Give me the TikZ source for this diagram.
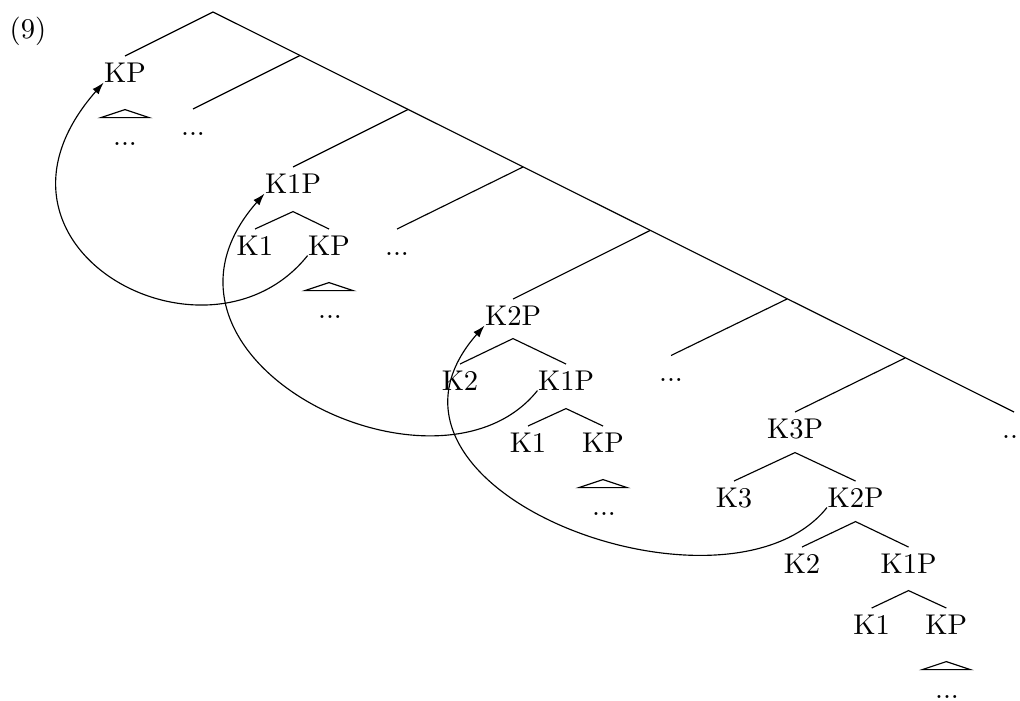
\documentclass[tikz,border=0pt]{standalone}
\usetikzlibrary{arrows.meta,calc}

\begin{document}
\begin{tikzpicture}[
  x=0.35pt, y=-0.35pt,
  lab/.style={inner sep=0pt, anchor=base, text height=8.9pt, text depth=0pt},
  mv/.style={-{Latex[length=4.2pt,width=2.8pt]}}
]
  \useasboundingbox (0,0) rectangle (1020,700);
  \node[inner sep=0pt] (exnum) at (28,31.5) {(9)};

  % labels
  \node[lab] (kp0) at (125,82) {KP};
  \node[lab] (kp0-dots) at (125,145.5) {...};
  \node[lab] (dots1) at (193,135) {...};
  \node[lab] (k1p) at (293,193) {K1P};
  \node[lab] (k1p-k1) at (255,255) {K1};
  \node[lab] (k1p-kp) at (329,255) {KP};
  \node[lab] (k1p-dots) at (330,318) {...};
  \node[lab] (dots2) at (397,255) {...};
  \node[lab] (k2p) at (513,325) {K2P};
  \node[lab] (k2p-k2) at (460,390) {K2};
  \node[lab] (k2p-k1p) at (566,390) {K1P};
  \node[lab] (k2p-k1) at (528,452) {K1};
  \node[lab] (k2p-kp) at (603,452) {KP};
  \node[lab] (k2p-dots) at (604,515) {...};
  \node[lab] (dots3) at (671,381.5) {...};
  \node[lab] (k3p) at (795,438) {K3P};
  \node[lab] (dots4) at (1014,438) {...};
  \node[lab] (k3p-k3) at (734,507) {K3};
  \node[lab] (k3p-k2p) at (855.5,507) {K2P};
  \node[lab] (k3p-k2) at (802,573) {K2};
  \node[lab] (k3p-k1p) at (908.5,573) {K1P};
  \node[lab] (k3p-k1) at (871.7,634) {K1};
  \node[lab] (k3p-kp) at (946.3,634) {KP};
  \node[lab] (k3p-dots) at (947,698) {...};

  % spine
  \coordinate (root) at (213,12);
  \coordinate (s1) at (300,55.5);
  \coordinate (s2) at (408,109.5);
  \coordinate (s3) at (523,167);
  \coordinate (s4) at (650,230.5);
  \coordinate (s5) at (787,299);
  \coordinate (s6) at (905,358);
  \draw (root) -- (dots4.north);
  \draw (root) -- (kp0.north);
  \draw (s1) -- (dots1.north);
  \draw (s2) -- (k1p.north);
  \draw (s3) -- (dots2.north);
  \draw (s4) -- (k2p.north);
  \draw (s5) -- (dots3.north);
  \draw (s6) -- (k3p.north);

  % subtrees
  \coordinate (k1p-top) at ($(k1p.south)+(0,18)$);
  \draw (k1p-k1.north) -- (k1p-top) -- (k1p-kp.north);
  \coordinate (k2p-top) at ($(k2p.south)+(0,13)$);
  \draw (k2p-k2.north) -- (k2p-top) -- (k2p-k1p.north);
  \coordinate (k2p-k1p-top) at ($(k2p-k1p.south)+(0,18)$);
  \draw (k2p-k1.north) -- (k2p-k1p-top) -- (k2p-kp.north);
  \coordinate (k3p-top) at ($(k3p.south)+(0,14)$);
  \draw (k3p-k3.north) -- (k3p-top) -- (k3p-k2p.north);
  \coordinate (k3p-k2p-top) at ($(k3p-k2p.south)+(0,14)$);
  \draw (k3p-k2.north) -- (k3p-k2p-top) -- (k3p-k1p.north);
  \coordinate (k3p-k1p-top) at ($(k3p-k1p.south)+(0,17)$);
  \draw (k3p-k1.north) -- (k3p-k1p-top) -- (k3p-kp.north);

  % roofs
  \foreach \leaf in {kp0,k1p-kp,k2p-kp,k3p-kp}
    \draw ($(\leaf.south)+(0,27)$) -- ++(-24,8) -- ++(48,0) -- cycle;

  % movement
  \draw[mv] (k1p-kp.south west) .. controls +(-100,125) and +(-145,165) .. (kp0.south west);
  \draw[mv] (k2p-k1p.south west) .. controls +(-100,125) and +(-145,165) .. (k1p.south west);
  \draw[mv] (k3p-k2p.south west) .. controls +(-100,125) and +(-145,165) .. (k2p.south west);
\end{tikzpicture}
\end{document}
